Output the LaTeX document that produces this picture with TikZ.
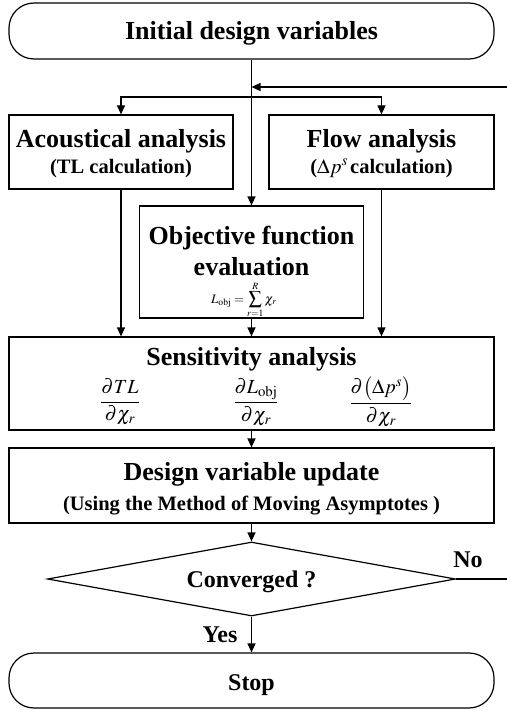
\documentclass[tikz,border=0pt]{standalone}
\usepackage{amsmath}
\usepackage{mathptmx}
\usepackage[no-math]{fontspec}
\setmainfont{Liberation Serif}
\usetikzlibrary{shapes.geometric,arrows.meta}
\tikzset{
  box/.style={draw, line width=1.2bp, inner sep=0pt},
  term/.style={box, rounded corners=25bp},
  arr/.style={line width=1.2bp, -{Triangle[length=9bp,width=8bp]}},
  ln/.style={line width=1.2bp},
  ttl/.style={anchor=base, inner sep=0pt, font=\bfseries\fontsize{26bp}{29bp}\selectfont},
  stl/.style={anchor=base, inner sep=0pt, font=\bfseries\fontsize{20.5bp}{24bp}\selectfont},
  lbl/.style={anchor=base, inner sep=0pt, font=\bfseries\fontsize{24bp}{27bp}\selectfont},
  mth/.style={inner sep=0pt, font=\fontsize{20bp}{24bp}\selectfont},
  mths/.style={anchor=base, inner sep=0pt, font=\fontsize{13bp}{16bp}\selectfont}
}
\begin{document}
\begin{tikzpicture}[x=1bp,y=-1bp]
\useasboundingbox (0,0) rectangle (507,711);
% boxes
\node[term, minimum width=485bp, minimum height=56bp] (init) at (251.5,31) {};
\node[box, minimum width=224bp, minimum height=74bp] (aco) at (121,152) {};
\node[box, minimum width=225bp, minimum height=74bp] (flow) at (381.5,152) {};
\node[box, minimum width=224bp, minimum height=112bp] (obj) at (251.5,262) {};
\node[box, minimum width=485bp, minimum height=93bp] (sens) at (251.5,383.5) {};
\node[box, minimum width=485bp, minimum height=75bp] (des) at (251.5,485.5) {};
\node[box, shape=diamond, aspect=5.5, minimum width=408bp, minimum height=74bp] (conv) at (251.5,579) {};
\node[term, minimum width=485bp, minimum height=55bp] (stop) at (251.5,680.5) {};
% texts
\node[ttl] (tinit) at (251.5,40) {Initial design variables};
\node[ttl] (taco) at (121,147) {Acoustical analysis};
\node[stl] (saco) at (121,173) {(TL calculation)};
\node[ttl] (tflow) at (381.5,147) {Flow analysis};
\node[stl] (sflow) at (381.5,173) {($\Delta p^{s}\,$calculation)};
\node[ttl] (tobj1) at (251.5,244) {Objective function};
\node[ttl] (tobj2) at (251.5,275) {evaluation};
\node[mths] (fobj) at (244,303) {$L_{\mathrm{obj}}=\displaystyle\sum_{r=1}^{R}\chi_r$};
\node[ttl] (tsens) at (251.5,365) {Sensitivity analysis};
\node[mth] (f1) at (120,402) {$\dfrac{\partial TL}{\partial\chi_r}$};
\node[mth] (f2) at (256,402) {$\dfrac{\partial L_{\mathrm{obj}}}{\partial\chi_r}$};
\node[mth] (f3) at (381,402) {$\dfrac{\partial\bigl(\Delta p^{s}\bigr)}{\partial\chi_r}$};
\node[ttl] (tdes) at (251.5,480) {Design variable update};
\node[stl] (sdes) at (251.5,510) {(Using the Method of Moving Asymptotes )};
\node[lbl] (tconv) at (251.5,587) {Converged ?};
\node[lbl] (tstop) at (251.5,690) {Stop};
\node[lbl] (yes) at (220,642) {Yes};
\node[lbl] (no) at (468,567) {No};
% connectors
\coordinate (fbR) at (507,87);
\coordinate (split) at (251.5,97);
\coordinate (noR) at (507,579);
\draw[arr] (init.south) -- (obj.north);
\draw[arr] (fbR) -- (fbR -| init.south);
\draw[arr] (split) -| (aco.north);
\draw[arr] (split) -| (flow.north);
\draw[arr] (aco.south) -- (aco.south |- sens.north);
\draw[arr] (flow.south) -- (flow.south |- sens.north);
\draw[arr] (obj.south) -- (sens.north);
\draw[arr] (sens.south) -- (des.north);
\draw[arr] (des.south) -- (conv.north);
\draw[arr] (conv.south) -- (stop.north);
\draw[ln] (conv.east) -- (noR);
\end{tikzpicture}
\end{document}
